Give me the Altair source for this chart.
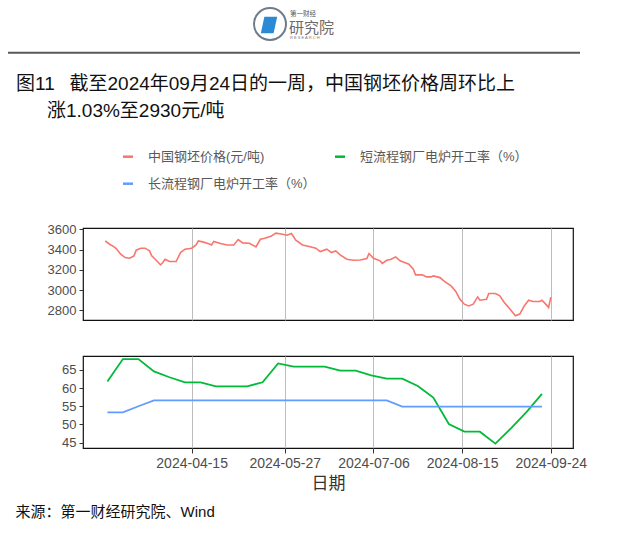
import altair as alt
import pandas as pd

# ---------------- data ----------------
price_dates = [
    "2024-03-07", "2024-03-09", "2024-03-11", "2024-03-12", "2024-03-14", "2024-03-16",
    "2024-03-18", "2024-03-20", "2024-03-21", "2024-03-23", "2024-03-25", "2024-03-27",
    "2024-03-28", "2024-03-31", "2024-04-01", "2024-04-02", "2024-04-03", "2024-04-05",
    "2024-04-08", "2024-04-10", "2024-04-12", "2024-04-15", "2024-04-17", "2024-04-18",
    "2024-04-20", "2024-04-23", "2024-04-24", "2024-04-25", "2024-04-28", "2024-05-01",
    "2024-05-04", "2024-05-06", "2024-05-08", "2024-05-11", "2024-05-14", "2024-05-16",
    "2024-05-18", "2024-05-21", "2024-05-23", "2024-05-26", "2024-05-28", "2024-05-30",
    "2024-06-01", "2024-06-04", "2024-06-07", "2024-06-10", "2024-06-12", "2024-06-15",
    "2024-06-17", "2024-06-19", "2024-06-21", "2024-06-24", "2024-06-27", "2024-06-30",
    "2024-07-03", "2024-07-04", "2024-07-06", "2024-07-09", "2024-07-10", "2024-07-12",
    "2024-07-14", "2024-07-16", "2024-07-18", "2024-07-20", "2024-07-22", "2024-07-24",
    "2024-07-25", "2024-07-28", "2024-07-30", "2024-08-01", "2024-08-02", "2024-08-05",
    "2024-08-07", "2024-08-10", "2024-08-12", "2024-08-14", "2024-08-16", "2024-08-18",
    "2024-08-20", "2024-08-22", "2024-08-23", "2024-08-26", "2024-08-27", "2024-08-30",
    "2024-09-01", "2024-09-03", "2024-09-06", "2024-09-08", "2024-09-10", "2024-09-12",
    "2024-09-14", "2024-09-16", "2024-09-19", "2024-09-20", "2024-09-22", "2024-09-23",
    "2024-09-24",
]
price_values = [
    3485, 3452, 3426, 3410, 3354, 3321,
    3314, 3337, 3393, 3413, 3413, 3386,
    3337, 3272, 3248, 3272, 3304, 3281,
    3281, 3370, 3403, 3413, 3445, 3485,
    3475, 3455, 3445, 3480, 3460, 3445,
    3445, 3498, 3465, 3462, 3426, 3501,
    3511, 3534, 3561, 3551, 3541, 3558,
    3492, 3445, 3429, 3413, 3380, 3403,
    3370, 3386, 3347, 3304, 3294, 3297,
    3310, 3360, 3314, 3288, 3262, 3294,
    3304, 3327, 3288, 3272, 3255, 3206,
    3150, 3150, 3130, 3130, 3140, 3123,
    3085, 3041, 2992, 2910, 2861, 2844,
    2861, 2933, 2900, 2910, 2966, 2966,
    2943, 2878, 2802, 2746, 2763, 2844,
    2900, 2887, 2887, 2900, 2854, 2828,
    2930,
]

rate_dates = [
    "2024-03-08", "2024-03-15", "2024-03-22", "2024-03-29", "2024-04-05", "2024-04-12",
    "2024-04-19", "2024-04-26", "2024-05-03", "2024-05-10", "2024-05-17", "2024-05-24",
    "2024-05-31", "2024-06-07", "2024-06-14", "2024-06-21", "2024-06-28", "2024-07-05",
    "2024-07-12", "2024-07-19", "2024-07-26", "2024-08-02", "2024-08-09", "2024-08-16",
    "2024-08-23", "2024-08-30", "2024-09-06", "2024-09-13", "2024-09-20",
]
short_rate = [
    61.8, 68.0, 68.0, 64.6, 63.0, 61.6,
    61.6, 60.5, 60.5, 60.5, 61.6, 66.8,
    65.9, 65.9, 65.9, 64.8, 64.8, 63.5,
    62.6, 62.6, 60.6, 57.4, 50.1, 48.0,
    48.0, 44.7, 48.9, 53.4, 58.4,
]
long_rate = [
    53.3, 53.3, 55.0, 56.6, 56.6, 56.6,
    56.6, 56.6, 56.6, 56.6, 56.6, 56.6,
    56.6, 56.6, 56.6, 56.6, 56.6, 56.6,
    56.6, 54.9, 54.9, 54.9, 54.9, 54.9,
    54.9, 54.9, 54.9, 54.9, 54.9,
]

series_names = ["中国钢坯价格(元/吨)", "短流程钢厂电炉开工率（%）", "长流程钢厂电炉开工率（%）"]
series_colors = ["#F8766D", "#00BA38", "#619CFF"]

tick_dates = ["2024-04-15", "2024-05-27", "2024-07-06", "2024-08-15", "2024-09-24"]
x_domain = ["2024-02-26", "2024-10-04"]
price_ticks = [2800, 3000, 3200, 3400, 3600]
price_domain = [2705, 3612]
rate_ticks = [45, 50, 55, 60, 65]
rate_domain = [43.5, 68.85]

title_line1 = "图11\u2002 截至2024年09月24日的一周，中国钢坯价格周环比上"
title_line2 = "涨1.03%至2930元/吨"
source_text = "来源：第一财经研究院、Wind"
x_title = "日期"
logo_big = "研究院"
logo_small = "第一财经"
logo_tiny = "R E S E A R C H"

# ---------------- layout constants ----------------
FONT = "Liberation Sans, Noto Sans CJK SC"
PW, PH = 490, 92
OX, OY_TOP, OY_BOT = 83, 227, 353


def to_dt(s):
    y, m, d = (int(v) for v in s.split("-"))
    return alt.DateTime(year=y, month=m, date=d, utc=True)


x_scale = alt.Scale(type="utc", domain=[to_dt(s) for s in x_domain])
tick_dt = [to_dt(s) for s in tick_dates]

one = pd.DataFrame({"k": [0]})


def text_at(s, px, py, size, color, oy, align="left", baseline="middle"):
    return alt.Chart(pd.DataFrame({"t": [s]})).mark_text(
        align=align, baseline=baseline, fontSize=size, color=color, font=FONT
    ).encode(x=alt.value(px - OX), y=alt.value(py - oy), text="t:N")


def hrule(x1, x2, py, color, width, oy):
    return alt.Chart(one).mark_rule(color=color, strokeWidth=width).encode(
        x=alt.value(x1 - OX), x2=alt.value(x2 - OX), y=alt.value(py - oy)
    )


# ---------------- header (logo, separator, title, legend) ----------------
header = [
    alt.Chart(one).mark_point(shape="circle", filled=False, color="#6E7B8B",
                              strokeWidth=2, size=1024, opacity=1).encode(
        x=alt.value(270 - OX), y=alt.value(23 - OY_TOP)),
    alt.Chart(one).mark_point(shape="M-0.45,-0.8 L0.8,-0.8 L0.45,0.8 L-0.8,0.8 Z",
                              filled=True, color="#2A8AD6", size=420, opacity=1).encode(
        x=alt.value(269 - OX), y=alt.value(24 - OY_TOP)),
    text_at(logo_small, 290, 12.5, 6.5, "#555555", OY_TOP),
    text_at(logo_big, 289, 27, 15, "#6B6B6B", OY_TOP),
    text_at(logo_tiny, 290, 36.5, 4, "#777777", OY_TOP),
    hrule(8, 580, 51.7, "#595959", 2, OY_TOP),
    text_at(title_line1, 16, 83, 19, "#111111", OY_TOP),
    text_at(title_line2, 47, 110, 19, "#111111", OY_TOP),
]

legend_pos = [(123, 155.7), (335, 155.7), (123, 182.7)]
legend_layers = []
for name, col, (lx, ly) in zip(series_names, series_colors, legend_pos):
    legend_layers.append(hrule(lx, lx + 10, ly, col, 2.5, OY_TOP))
    legend_layers.append(text_at(name, lx + 25, ly, 13, "#595959", OY_TOP))

# ---------------- panels ----------------
price_df = pd.DataFrame({"date": price_dates, "value": price_values})
rate_df = pd.DataFrame({
    "date": rate_dates * 2,
    "value": short_rate + long_rate,
    "series": [series_names[1]] * len(rate_dates) + [series_names[2]] * len(rate_dates),
})

y_axis_common = dict(title=None, domain=False, ticks=True, tickColor="#333333", tickSize=4,
                     tickWidth=1, labelFontSize=13, labelColor="#4D4D4D", format="d",
                     labelFont="Liberation Sans", grid=False, labelPadding=3)

top_line = alt.Chart(price_df).mark_line(color=series_colors[0], strokeWidth=1.6).encode(
    x=alt.X("date:T", scale=x_scale,
            axis=alt.Axis(values=tick_dt, grid=True, gridColor="#BDBDBD", gridWidth=1,
                          labels=False, ticks=False, domain=False, title=None)),
    y=alt.Y("value:Q", scale=alt.Scale(domain=price_domain, nice=False, zero=False),
            axis=alt.Axis(values=price_ticks, **y_axis_common)),
)

top = alt.layer(top_line, *header, *legend_layers).properties(width=PW, height=PH)

bottom_lines = alt.Chart(rate_df).mark_line(strokeWidth=1.8).encode(
    x=alt.X("date:T", scale=x_scale,
            axis=alt.Axis(values=tick_dt,
                          labelExpr="utcFormat(datum.value, '%Y-%m-%d')",
                          grid=True, gridColor="#BDBDBD", gridWidth=1,
                          ticks=True, tickColor="#333333", tickSize=5, tickWidth=1,
                          domain=False, labelFontSize=14, labelColor="#4D4D4D",
                          labelFont="Liberation Sans", labelPadding=3, labelFlush=False,
                          title=x_title, titleFont=FONT, titleFontSize=17,
                          titleFontWeight="normal", titleColor="#333333", titlePadding=5)),
    y=alt.Y("value:Q", scale=alt.Scale(domain=rate_domain, nice=False, zero=False),
            axis=alt.Axis(values=rate_ticks, **y_axis_common)),
    color=alt.Color("series:N", scale=alt.Scale(domain=series_names[1:], range=series_colors[1:]),
                    legend=None),
)

bottom = alt.layer(
    bottom_lines,
    text_at(source_text, 15.6, 508.7, 15, "#111111", OY_BOT),
).properties(width=PW, height=PH)

chart = alt.vconcat(top, bottom, spacing=33).properties(
    padding={"left": 6, "top": 3, "right": 5, "bottom": 5},
    background="white",
).configure_view(stroke="#111111", strokeWidth=1.2)

chart.save("out.html", embed_options={"renderer": "svg", "actions": False})
